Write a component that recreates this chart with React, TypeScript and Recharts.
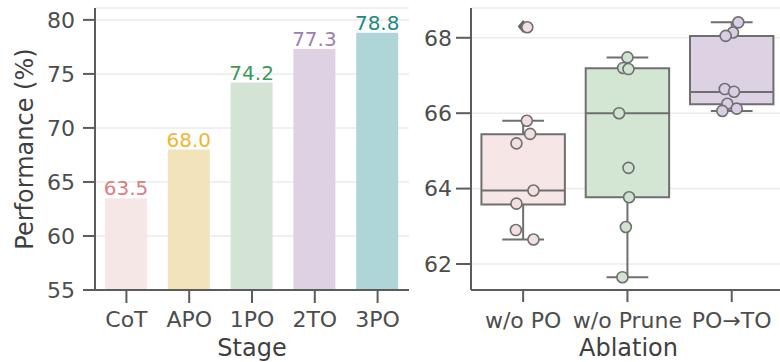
import React from 'react';
import {
  BarChart,
  Bar,
  XAxis,
  YAxis,
  CartesianGrid,
  Cell,
  LabelList,
  Label,
  ComposedChart,
  Scatter,
  ReferenceArea,
  ReferenceLine,
} from 'recharts';

// ---------- Left panel: performance by stage ----------
const stages = ['CoT', 'APO', '1PO', '2TO', '3PO'];
const performance = [63.5, 68.0, 74.2, 77.3, 78.8];
const barColors = ['#f6e7e7', '#f2e3bb', '#d3e4d4', '#ddd1e3', '#aed6d9'];
const labelColors = ['#e27b7f', '#f2b531', '#3c9a5a', '#9d80b3', '#21897f'];
const perfTicks = [55, 60, 65, 70, 75, 80];

// ---------- Right panel: ablation box plots ----------
const ablations = ['w/o PO', 'w/o Prune', 'PO→TO'];
const q1 = [63.58, 63.77, 66.24];
const medians = [63.95, 66.0, 66.56];
const q3 = [65.44, 67.19, 68.05];
const whiskerLow = [62.65, 61.65, 66.06];
const whiskerHigh = [65.8, 67.48, 68.41];
const outliersWoPO = [68.3];
const runsWoPO = [68.28, 65.8, 65.45, 65.2, 63.95, 63.6, 62.9, 62.65];
const jitterWoPO = [0.04, 0.035, 0.067, -0.064, 0.099, -0.064, -0.07, 0.099];
const runsWoPrune = [67.48, 67.2, 67.17, 66.0, 64.55, 63.77, 62.98, 61.65];
const jitterWoPrune = [0, -0.041, 0.01, -0.08, 0.01, 0.016, -0.015, -0.048];
const runsPoTo = [68.41, 68.14, 68.05, 66.64, 66.57, 66.25, 66.12, 66.06];
const jitterPoTo = [0.063, 0.012, -0.058, -0.067, 0.022, -0.042, 0.048, -0.09];
const boxColors = ['#f7e6e6', '#d3e5d3', '#ddd1e4'];
const pointColors = ['#f2dfdf', '#d0e3d0', '#dacde3'];
const ablationTicks = [62, 64, 66, 68];

const FONT = "'DejaVu Sans', sans-serif";
const AXIS = '#5c5c5c';
const TICK_TEXT = '#4d4d4d';
const LABEL_TEXT = '#3f3f3f';
const EDGE = '#6f6f6f';

const barData = stages.map((s, i) => ({ stage: s, value: performance[i] }));

const runs = [runsWoPO, runsWoPrune, runsPoTo];
const jitters = [jitterWoPO, jitterWoPrune, jitterPoTo];
const pointSets = runs.map((vals, c) =>
  vals.map((v, k) => ({ x: c + jitters[c][k], y: v }))
);
const flierData = outliersWoPO.map((v) => ({ x: 0, y: v }));

const makeCircle = (fill: string) => (props: any) => {
  const { cx, cy } = props;
  if (cx == null || cy == null) return <g />;
  return <circle cx={cx} cy={cy} r={5.5} fill={fill} stroke={EDGE} strokeWidth={1.6} />;
};

const diamond = (props: any) => {
  const { cx, cy } = props;
  if (cx == null || cy == null) return <g />;
  const w = 5.5;
  const h = 6.5;
  return (
    <polygon
      points={`${cx},${cy - h} ${cx + w},${cy} ${cx},${cy + h} ${cx - w},${cy}`}
      fill="#666"
    />
  );
};

const valueLabel = (props: any) => {
  const { x, y, width, index, value } = props;
  return (
    <text
      x={x + width / 2}
      y={y - 3}
      textAnchor="middle"
      fill={labelColors[index]}
      fontSize={20}
      fontFamily={FONT}
    >
      {Number(value).toFixed(1)}
    </text>
  );
};

const perfYLabel = (props: any) => {
  const vb = props.viewBox || {};
  const cx = (vb.x || 0) + 25;
  const cy = (vb.y || 0) + (vb.height || 0) / 2;
  return (
    <text
      x={cx}
      y={cy}
      transform={`rotate(-90 ${cx} ${cy})`}
      textAnchor="middle"
      dominantBaseline="central"
      fontSize={24}
      fontFamily={FONT}
      fill={LABEL_TEXT}
    >
      Performance (%)
    </text>
  );
};

export default function App() {
  const tickStyle = { fontSize: 22, fontFamily: FONT, fill: TICK_TEXT };
  return (
    <div style={{ position: 'absolute', left: 0, top: 0, width: 780, height: 362, background: '#fff' }}>
      <div style={{ position: 'absolute', left: 0, top: 0 }}>
        <BarChart
          width={420}
          height={362}
          data={barData}
          margin={{ top: 8, right: 11, left: 0, bottom: 0 }}
        >
          <CartesianGrid vertical={false} stroke="#ebebeb" strokeWidth={1.5} />
          <XAxis
            dataKey="stage"
            height={72}
            tick={tickStyle}
            tickSize={13}
            tickMargin={8}
            axisLine={{ stroke: AXIS, strokeWidth: 2 }}
            tickLine={{ stroke: AXIS, strokeWidth: 2 }}
            interval={0}
          >
            <Label
              value="Stage"
              position="insideBottom"
              offset={6}
              fontSize={24}
              fontFamily={FONT}
              fill={LABEL_TEXT}
            />
          </XAxis>
          <YAxis
            width={95}
            domain={[55, 81.1]}
            ticks={perfTicks}
            allowDataOverflow
            tick={tickStyle}
            tickSize={12}
            tickMargin={8}
            axisLine={{ stroke: AXIS, strokeWidth: 2 }}
            tickLine={{ stroke: AXIS, strokeWidth: 2 }}
          >
            <Label content={perfYLabel} />
          </YAxis>
          <Bar dataKey="value" barSize={42} isAnimationActive={false}>
            {barData.map((d, i) => (
              <Cell key={d.stage} fill={barColors[i]} />
            ))}
            <LabelList dataKey="value" content={valueLabel} />
          </Bar>
        </BarChart>
      </div>
      <div style={{ position: 'absolute', left: 400, top: 0 }}>
        <ComposedChart
          width={380}
          height={362}
          margin={{ top: 8, right: 0, left: 0, bottom: 0 }}
        >
          <CartesianGrid vertical={false} stroke="#ebebeb" strokeWidth={1.5} />
          <XAxis
            type="number"
            dataKey="x"
            domain={[-0.5, 2.463]}
            allowDataOverflow
            ticks={[0, 1, 2]}
            tickFormatter={(v: number) => ablations[Math.round(v)] ?? ''}
            height={72}
            tick={tickStyle}
            tickSize={12}
            tickMargin={10}
            interval={0}
            axisLine={{ stroke: AXIS, strokeWidth: 2 }}
            tickLine={{ stroke: AXIS, strokeWidth: 2 }}
          >
            <Label
              value="Ablation"
              position="insideBottom"
              offset={6}
              dx={3}
              fontSize={24}
              fontFamily={FONT}
              fill={LABEL_TEXT}
            />
          </XAxis>
          <YAxis
            type="number"
            dataKey="y"
            width={71}
            domain={[61.31, 68.79]}
            ticks={ablationTicks}
            allowDataOverflow
            tick={tickStyle}
            tickSize={15}
            tickMargin={4}
            axisLine={{ stroke: AXIS, strokeWidth: 2 }}
            tickLine={{ stroke: AXIS, strokeWidth: 2 }}
          />
          {ablations.map((name, i) => (
            <ReferenceLine
              key={`wl-${name}`}
              segment={[{ x: i, y: whiskerLow[i] }, { x: i, y: q1[i] }]}
              stroke={EDGE}
              strokeWidth={2}
              ifOverflow="visible"
            />
          ))}
          {ablations.map((name, i) => (
            <ReferenceLine
              key={`wh-${name}`}
              segment={[{ x: i, y: q3[i] }, { x: i, y: whiskerHigh[i] }]}
              stroke={EDGE}
              strokeWidth={2}
              ifOverflow="visible"
            />
          ))}
          {ablations.map((name, i) => (
            <ReferenceLine
              key={`cl-${name}`}
              segment={[{ x: i - 0.2, y: whiskerLow[i] }, { x: i + 0.2, y: whiskerLow[i] }]}
              stroke={EDGE}
              strokeWidth={2}
              ifOverflow="visible"
            />
          ))}
          {ablations.map((name, i) => (
            <ReferenceLine
              key={`ch-${name}`}
              segment={[{ x: i - 0.2, y: whiskerHigh[i] }, { x: i + 0.2, y: whiskerHigh[i] }]}
              stroke={EDGE}
              strokeWidth={2}
              ifOverflow="visible"
            />
          ))}
          {ablations.map((name, i) => (
            <ReferenceArea
              key={`box-${name}`}
              x1={i - 0.4}
              x2={i + 0.4}
              y1={q1[i]}
              y2={q3[i]}
              fill={boxColors[i]}
              fillOpacity={1}
              stroke={EDGE}
              strokeWidth={2}
              ifOverflow="visible"
            />
          ))}
          {ablations.map((name, i) => (
            <ReferenceLine
              key={`med-${name}`}
              segment={[{ x: i - 0.4, y: medians[i] }, { x: i + 0.4, y: medians[i] }]}
              stroke={EDGE}
              strokeWidth={2}
              ifOverflow="visible"
            />
          ))}
          <Scatter data={flierData} shape={diamond} isAnimationActive={false} />
          {pointSets.map((pts, i) => (
            <Scatter
              key={`pts-${i}`}
              data={pts}
              shape={makeCircle(pointColors[i])}
              isAnimationActive={false}
            />
          ))}
        </ComposedChart>
      </div>
    </div>
  );
}
